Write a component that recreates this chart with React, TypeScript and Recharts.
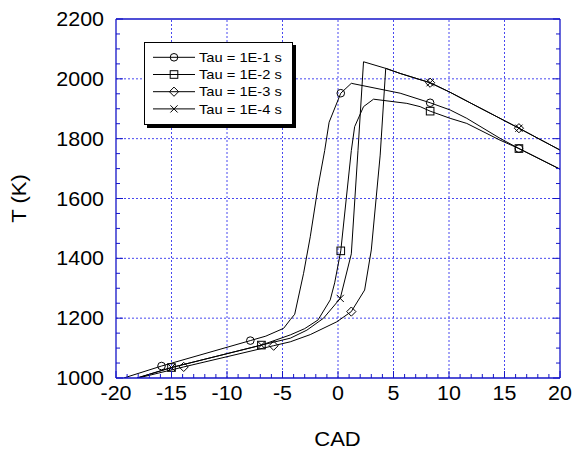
import React from "react";
import { LineChart, Line, XAxis, YAxis, ReferenceLine } from "recharts";

// ─── Data ─────────────────────────────────────────────────────────────────────

const tau1Cad = [-19.3, -15.9, -7.9, -6.5, -4.9, -4.3, -3.9, -3.1, -2.5, -1.8, -1.2, -0.8, 0.25, 1.2, 5.6, 8.3, 10.1, 11.6, 14.6, 16.3, 20];
const tau1T = [1000, 1040, 1125, 1140, 1166, 1195, 1213, 1350, 1472, 1639, 1760, 1855, 1952, 1985, 1952, 1920, 1896, 1868, 1801, 1767, 1698];
const tau1Marks = [-15.9, -7.9, 0.25, 8.3, 16.3];

const tau2Cad = [-18.1, -15.0, -6.9, -4.3, -3.0, -1.8, -0.7, -0.3, 0.25, 1.2, 1.5, 2.3, 3.2, 6.2, 7.4, 8.3, 10.1, 11.6, 14.6, 16.3, 20];
const tau2T = [1000, 1035, 1110, 1144, 1165, 1194, 1261, 1318, 1425, 1760, 1840, 1907, 1932, 1918, 1907, 1892, 1868, 1851, 1795, 1767, 1698];
const tau2Marks = [-15.0, -6.9, 0.25, 8.3, 16.3];

const tau3Cad = [-18.0, -13.9, -5.8, -4.3, -2.5, -0.1, 1.2, 2.4, 3.0, 3.8, 4.3, 5.6, 8.3, 10.1, 11.9, 16.3, 20];
const tau3T = [1000, 1037, 1108, 1121, 1145, 1188, 1222, 1294, 1428, 1745, 2035, 2018, 1987, 1955, 1920, 1835, 1762];
const tau3Marks = [-13.9, -5.8, 1.2, 8.3, 16.3];

const tau4Cad = [-18.1, -15.0, -6.9, -4.3, -2.8, -1.3, 0.2, 1.2, 1.8, 2.3, 4.3, 5.6, 8.3, 10.1, 11.9, 16.3, 20];
const tau4T = [1000, 1035, 1110, 1133, 1160, 1200, 1266, 1415, 1760, 2057, 2035, 2018, 1987, 1955, 1920, 1835, 1762];
const tau4Marks = [-15.0, -6.9, 0.2, 8.3, 16.3];

const seriesNames = ["Tau = 1E-1 s", "Tau = 1E-2 s", "Tau = 1E-3 s", "Tau = 1E-4 s"];
const seriesShapes = ["circle", "square", "diamond", "cross"];

const xGrid = [-15, -10, -5, 0, 5, 10, 15];
const yGrid = [1200, 1400, 1600, 1800, 2000];

// minor ticks: every 1 CAD, every 50 K (labels only on the majors)
const xTicks: number[] = [];
for (let v = -20; v <= 20; v += 1) xTicks.push(v);
const yTicks: number[] = [];
for (let v = 1000; v <= 2200; v += 50) yTicks.push(v);

const build = (cad: number[], t: number[], marks: number[]) =>
  cad.map((c, i) => ({ cad: c, T: t[i], mark: marks.includes(c) }));

const seriesData = [
  build(tau1Cad, tau1T, tau1Marks),
  build(tau2Cad, tau2T, tau2Marks),
  build(tau3Cad, tau3T, tau3Marks),
  build(tau4Cad, tau4T, tau4Marks),
];

// ─── Styles ───────────────────────────────────────────────────────────────────

const BLUE = "#1414c8";
const GRID = "#4848f0";
const FONT = "'Liberation Sans', Arial, sans-serif";
const STRETCH = 1.1;

// ─── Markers ──────────────────────────────────────────────────────────────────

function Marker({ shape, cx, cy }: { shape: string; cx: number; cy: number }) {
  const s = { fill: "none", stroke: "#000", strokeWidth: 1 };
  if (shape === "circle") return <circle cx={cx} cy={cy} r={3.8} {...s} />;
  if (shape === "square")
    return <rect x={cx - 3.8} y={cy - 3.8} width={7.6} height={7.6} {...s} />;
  if (shape === "diamond")
    return (
      <path
        d={`M${cx},${cy - 4.6}L${cx + 4.6},${cy}L${cx},${cy + 4.6}L${cx - 4.6},${cy}Z`}
        {...s}
      />
    );
  return (
    <path
      d={`M${cx - 3.6},${cy - 3.6}L${cx + 3.6},${cy + 3.6}M${cx - 3.6},${cy + 3.6}L${cx + 3.6},${cy - 3.6}`}
      {...s}
    />
  );
}

// ─── Axis ticks (drawn inward, like the original frame) ──────────────────────

function BottomTick({ x, y, payload }: any) {
  const v = payload.value as number;
  const major = v % 5 === 0;
  return (
    <g>
      <line x1={x} x2={x} y1={y} y2={y - (major ? 7 : 4)} stroke={BLUE} />
      {major && (
        <text
          transform={`translate(${x},${y + 22}) scale(${STRETCH},1)`}
          textAnchor="middle"
          fontFamily={FONT}
          fontSize={19.5}
          fill="#000"
        >
          {v}
        </text>
      )}
    </g>
  );
}

function TopTick({ x, y, payload }: any) {
  const major = (payload.value as number) % 5 === 0;
  return <line x1={x} x2={x} y1={y} y2={y + (major ? 7 : 4)} stroke={BLUE} />;
}

function LeftTick({ x, y, payload }: any) {
  const v = payload.value as number;
  const major = v % 200 === 0;
  return (
    <g>
      <line x1={x} x2={x + (major ? 7 : 4)} y1={y} y2={y} stroke={BLUE} />
      {major && (
        <text
          transform={`translate(${x - 12},${y + 7}) scale(${STRETCH},1)`}
          textAnchor="end"
          fontFamily={FONT}
          fontSize={19.5}
          fill="#000"
        >
          {v}
        </text>
      )}
    </g>
  );
}

function RightTick({ x, y, payload }: any) {
  const major = (payload.value as number) % 200 === 0;
  return <line x1={x} x2={x - (major ? 7 : 4)} y1={y} y2={y} stroke={BLUE} />;
}

// ─── Legend ───────────────────────────────────────────────────────────────────

function LegendBox() {
  return (
    <div
      style={{
        position: "absolute",
        left: 144,
        top: 42,
        width: 147,
        height: 81,
        border: "1px solid #000",
        background: "#fff",
        boxShadow: "3px 3px 0 #000",
      }}
    >
      <svg width={147} height={81}>
        {seriesNames.map((name, i) => {
          const cy = 14.3 + i * 17.2;
          return (
            <g key={name}>
              <line x1={8} x2={50} y1={cy} y2={cy} stroke="#000" />
              <Marker shape={seriesShapes[i]} cx={29} cy={cy} />
              <text
                transform={`translate(54,${cy + 4.7}) scale(1.13,1)`}
                fontFamily={FONT}
                fontSize={13}
                fill="#000"
              >
                {name}
              </text>
            </g>
          );
        })}
      </svg>
    </div>
  );
}

// ─── Chart ────────────────────────────────────────────────────────────────────

const axisCommon = {
  type: "number" as const,
  interval: 0 as const,
  allowDataOverflow: true,
  tickSize: 0,
  tickMargin: 0,
  tickLine: false,
  axisLine: { stroke: BLUE, strokeWidth: 1.3 },
};

export default function App() {
  return (
    <div style={{ position: "absolute", left: 0, top: 0, width: 572, height: 452, background: "#fff" }}>
      <LineChart width={572} height={452} margin={{ top: 0, right: 0, bottom: 0, left: 0 }}>
        <XAxis {...axisCommon} dataKey="cad" domain={[-20, 20]} ticks={xTicks} height={74} tick={<BottomTick />} />
        <XAxis {...axisCommon} xAxisId="top" orientation="top" domain={[-20, 20]} ticks={xTicks} height={19} tick={<TopTick />} />
        <YAxis {...axisCommon} domain={[1000, 2200]} ticks={yTicks} width={116} tick={<LeftTick />} />
        <YAxis {...axisCommon} yAxisId="right" orientation="right" domain={[1000, 2200]} ticks={yTicks} width={12} tick={<RightTick />} />

        {xGrid.map((v) => (
          <ReferenceLine key={`gx${v}`} x={v} stroke={GRID} strokeDasharray="2 2" />
        ))}
        {yGrid.map((v) => (
          <ReferenceLine key={`gy${v}`} y={v} stroke={GRID} strokeDasharray="2 2" />
        ))}

        {seriesData.map((d, i) => (
          <Line
            key={seriesNames[i]}
            data={d}
            dataKey="T"
            name={seriesNames[i]}
            type="linear"
            stroke="#000"
            strokeWidth={1}
            isAnimationActive={false}
            activeDot={false}
            dot={(p: any) =>
              p.payload.mark ? (
                <Marker key={`m${i}-${p.index}`} shape={seriesShapes[i]} cx={p.cx} cy={p.cy} />
              ) : (
                <g key={`m${i}-${p.index}`} />
              )
            }
          />
        ))}
      </LineChart>

      <LegendBox />

      <svg width={572} height={452} style={{ position: "absolute", left: 0, top: 0, pointerEvents: "none" }}>
        <text
          transform={`translate(337.5,446) scale(${STRETCH},1)`}
          textAnchor="middle"
          fontFamily={FONT}
          fontSize={20}
          fill="#000"
        >
          CAD
        </text>
        <text
          transform={`translate(26,198.5) rotate(-90) scale(${STRETCH},1)`}
          textAnchor="middle"
          fontFamily={FONT}
          fontSize={20}
          fill="#000"
        >
          T (K)
        </text>
      </svg>
    </div>
  );
}
